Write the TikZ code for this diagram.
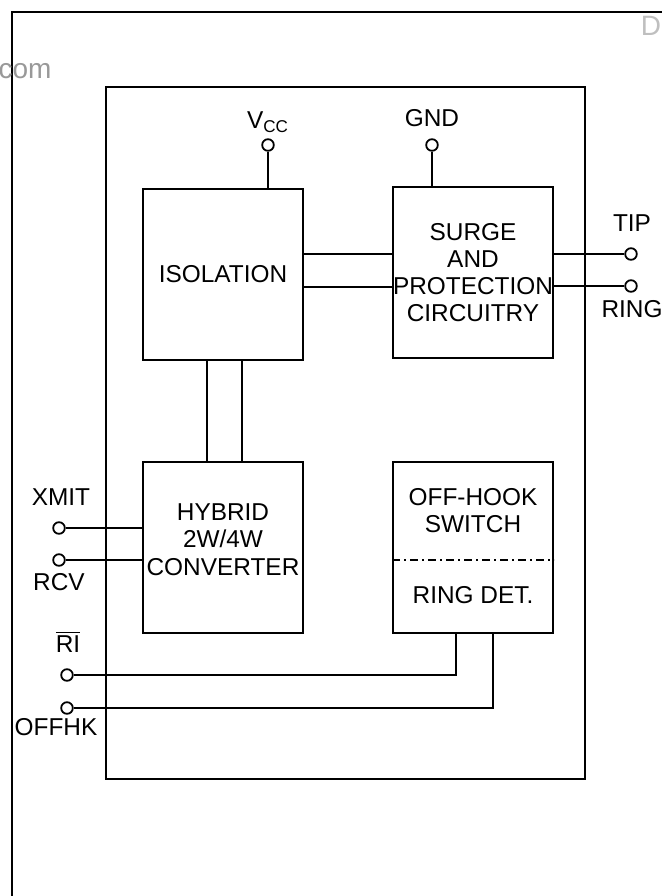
\documentclass[tikz,border=0pt]{standalone}
\usepackage{fontspec}
\setmainfont{Liberation Sans}
\usetikzlibrary{positioning}
\tikzset{
  block/.style={draw, line width=1pt, inner sep=0pt, minimum width=80pt, minimum height=85.5pt, align=center},
  pin/.style={draw, circle, line width=0.9pt, fill=white, inner sep=0pt, minimum size=5.8pt},
  wire/.style={line width=1pt},
  divider/.style={line width=0.9pt, dash pattern=on 4pt off 2pt on 1pt off 2pt},
}

\begin{document}
\begin{tikzpicture}[x=0.5pt, y=-0.5pt, every node/.style={font=\fontsize{12.2}{13.6}\selectfont}]
\useasboundingbox (0,0) rectangle (662,896);
% page frame and watermark remains
\draw[wire] (12,896) -- (12,12) -- (662,12);
\node[text=black!40, font=\fontsize{14}{16}\selectfont] (wmcom) at (25,71) {com};
\node[text=black!25, font=\fontsize{14}{16}\selectfont] (wmd) at (651,26) {D};
% package outline
\draw[wire] (106,87) rectangle (585,779);
% the four blocks
\node[block] (iso) at (223,274.5) {ISOLATION};
\node[block] (surge) at (473,272.5) {SURGE\\AND\\PROTECTION\\CIRCUITRY};
\node[block] (hyb) at (223,547.5) {HYBRID\\2W/4W\\CONVERTER\\[-5.5pt]\mbox{}};
\node[block] (hook) at (473,547.5) {};
\node (hooktop) at (473,510.5) [align=center] {OFF-HOOK\\SWITCH};
\node (hookbot) at (473,595) {RING DET.};
\coordinate (split) at (473,560);
\draw[divider] (split -| hook.west) -- (split -| hook.east);
% supply pins
\node[pin] (vcc) at (268,145) {};
\node (vcclbl) at (268,122) {V\textsubscript{CC}};
\node[pin] (gnd) at (432,145) {};
\node (gndlbl) at (432,118) {GND};
\draw[wire] (vcc) -- (vcc |- iso.north);
\draw[wire] (gnd) -- (gnd |- surge.north);
% isolation <-> surge, isolation <-> hybrid
\draw[wire] ([yshift=10.25pt]iso.east) -- ([yshift=10.25pt]iso.east -| surge.west);
\draw[wire] ([yshift=-6.25pt]iso.east) -- ([yshift=-6.25pt]iso.east -| surge.west);
\draw[wire] ([xshift=-8pt]iso.south) -- ([xshift=-8pt]hyb.north);
\draw[wire] ([xshift=9.5pt]iso.south) -- ([xshift=9.5pt]hyb.north);
% line side
\node[pin] (tip) at (631,254) {};
\node[pin] (ring) at (631,286) {};
\node (tiplbl) at (632,223) {TIP};
\node (ringlbl) at (632,309) {RING};
\draw[wire] (tip) -- (tip -| surge.east);
\draw[wire] (ring) -- (ring -| surge.east);
% modem side
\node[pin] (xmit) at (59,528) {};
\node[pin] (rcv) at (59,560) {};
\node (xmitlbl) at (61,497) {XMIT};
\node (rcvlbl) at (59,582) {RCV};
\draw[wire] (xmit) -- (xmit -| hyb.west);
\draw[wire] (rcv) -- (rcv -| hyb.west);
\node[pin] (ri) at (67,675) {};
\node[pin] (offhk) at (67,708) {};
\node (rilbl) at (68,642) {$\overline{\mbox{RI}}$};
\node (offhklbl) at (56,727) {OFFHK};
\draw[wire] (ri) -| ([xshift=-8.5pt]hook.south);
\draw[wire] (offhk) -| ([xshift=10pt]hook.south);
\end{tikzpicture}
\end{document}
